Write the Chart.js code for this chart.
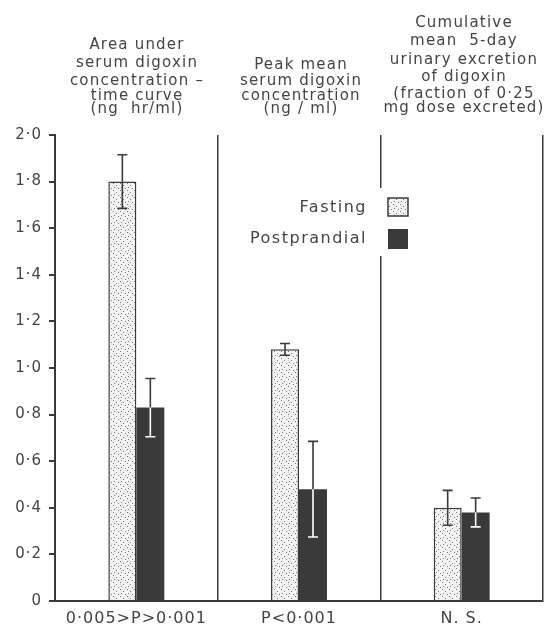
<!DOCTYPE html>
<html lang="en">
<head>
  <meta charset="UTF-8" />
  <title>Digoxin fasting vs postprandial</title>
  <script src="https://cdn.jsdelivr.net/npm/chart.js"></script>
  <style>
    body {
      margin: 0;
      background: #ffffff;
    }
    #wrap {
      width: 544px;
      height: 632px;
      position: relative;
    }
  </style>
</head>
<body>
<div id="wrap"><canvas id="chart"></canvas></div>

<script>
  const categories = ['0·005>P>0·001', 'P<0·001', 'N. S.'];
  const fasting = [1.80, 1.08, 0.40];
  const fastingErr = [0.115, 0.025, 0.075];
  const postprandial = [0.83, 0.48, 0.38];
  const postprandialErr = [0.125, 0.205, 0.062];
  const headers = [
    ['Area under', 'serum digoxin', 'concentration –', 'time curve', '(ng  hr/ml)'],
    ['Peak mean', 'serum digoxin', 'concentration', '(ng / ml)'],
    ['Cumulative', 'mean  5-day', 'urinary excretion', 'of digoxin', '(fraction of 0·25', 'mg dose excreted)']
  ];
  const seriesNames = ['Fasting', 'Postprandial'];

  const ink = '#3a3a3a';
  const font = '"DejaVu Sans", sans-serif';

  // stippled fill for the fasting bars
  function makeStipple() {
    const c = document.createElement('canvas');
    c.width = 7; c.height = 7;
    const g = c.getContext('2d');
    g.fillStyle = '#f3f3f3';
    g.fillRect(0, 0, 7, 7);
    g.fillStyle = '#777';
    g.fillRect(1, 1, 1, 1);
    g.fillRect(4, 3, 1, 1);
    g.fillRect(2, 5, 1, 1);
    g.fillRect(6, 6, 1, 1);
    return g.createPattern(c, 'repeat');
  }
  const stipple = makeStipple();

  const extras = {
    id: 'extras',
    beforeDraw(chart) {
      chart.ctx.letterSpacing = '1px';
    },
    afterDatasetsDraw(chart) {
      const ctx = chart.ctx;
      const y = chart.scales.y;
      const errs = [fastingErr, postprandialErr];
      const vals = [fasting, postprandial];
      ctx.save();
      ctx.lineWidth = 1.6;
      [0, 1].forEach(d => {
        chart.getDatasetMeta(d).data.forEach((bar, i) => {
          const x = bar.x;
          const top = y.getPixelForValue(vals[d][i] + errs[d][i]);
          const bot = y.getPixelForValue(vals[d][i] - errs[d][i]);
          const mid = bar.y;
          const lowColor = d === 0 ? ink : '#ffffff';
          ctx.strokeStyle = ink;
          ctx.beginPath();
          ctx.moveTo(x, top); ctx.lineTo(x, mid);
          ctx.moveTo(x - 5, top); ctx.lineTo(x + 5, top);
          ctx.stroke();
          ctx.strokeStyle = lowColor;
          ctx.beginPath();
          ctx.moveTo(x, mid); ctx.lineTo(x, bot);
          ctx.moveTo(x - 5, bot); ctx.lineTo(x + 5, bot);
          ctx.stroke();
        });
      });
      ctx.restore();
    },
    afterDraw(chart) {
      const ctx = chart.ctx;
      ctx.save();
      ctx.fillStyle = '#444';
      ctx.textAlign = 'center';
      ctx.textBaseline = 'middle';
      ctx.font = '15px ' + font;
      ctx.letterSpacing = '1.2px';
      const headerY = [
        [45, 63, 81, 96, 109],
        [65, 81, 96, 109],
        [23, 41, 60, 77, 94, 108]
      ];
      const headerX = [137, 301, 464];
      headers.forEach((lines, i) => {
        lines.forEach((t, j) => ctx.fillText(t, headerX[i], headerY[i][j]));
      });

      // legend, breaking the divider line behind it
      ctx.fillStyle = '#ffffff';
      ctx.fillRect(376, 188, 10, 68);
      ctx.fillStyle = '#444';
      ctx.textAlign = 'right';
      ctx.font = '16px ' + font;
      ctx.letterSpacing = '1.5px';
      ctx.fillText(seriesNames[0], 367, 208);
      ctx.fillText(seriesNames[1], 367, 239);
      ctx.fillStyle = stipple;
      ctx.fillRect(388, 198, 20, 18);
      ctx.strokeStyle = ink;
      ctx.lineWidth = 1.5;
      ctx.strokeRect(388, 198, 20, 18);
      ctx.fillStyle = ink;
      ctx.fillRect(388, 229, 20, 20);
      ctx.restore();
    }
  };

  new Chart(document.getElementById('chart'), {
    type: 'bar',
    data: {
      labels: categories,
      datasets: [
        {
          label: seriesNames[0],
          data: fasting,
          backgroundColor: stipple,
          borderColor: ink,
          borderWidth: 1.5,
          categoryPercentage: 0.344,
          barPercentage: 1
        },
        {
          label: seriesNames[1],
          data: postprandial,
          backgroundColor: ink,
          borderWidth: 0,
          categoryPercentage: 0.344,
          barPercentage: 1
        }
      ]
    },
    options: {
      responsive: true,
      maintainAspectRatio: false,
      animation: false,
      layout: { padding: { top: 135, right: 1, left: 0, bottom: 0 } },
      plugins: {
        legend: { display: false },
        tooltip: { enabled: false }
      },
      scales: {
        x: {
          afterFit: s => { s.height = 31; },
          grid: { offset: true, color: ink, lineWidth: 1.5, drawTicks: false },
          border: { display: true, color: ink, width: 2 },
          ticks: { color: '#444', font: { family: font, size: 16 }, padding: 8, maxRotation: 0 }
        },
        y: {
          min: 0,
          max: 2,
          afterFit: s => { s.width = 55; },
          grid: { drawOnChartArea: false, drawTicks: true, tickLength: 6, color: ink, lineWidth: 2 },
          border: { display: true, color: ink, width: 2 },
          ticks: {
            stepSize: 0.2,
            color: '#444',
            padding: 7,
            font: { family: font, size: 15 },
            callback: v => v === 0 ? '0' : v.toFixed(1).replace('.', '·')
          }
        }
      }
    },
    plugins: [extras]
  });
</script>
</body>
</html>
